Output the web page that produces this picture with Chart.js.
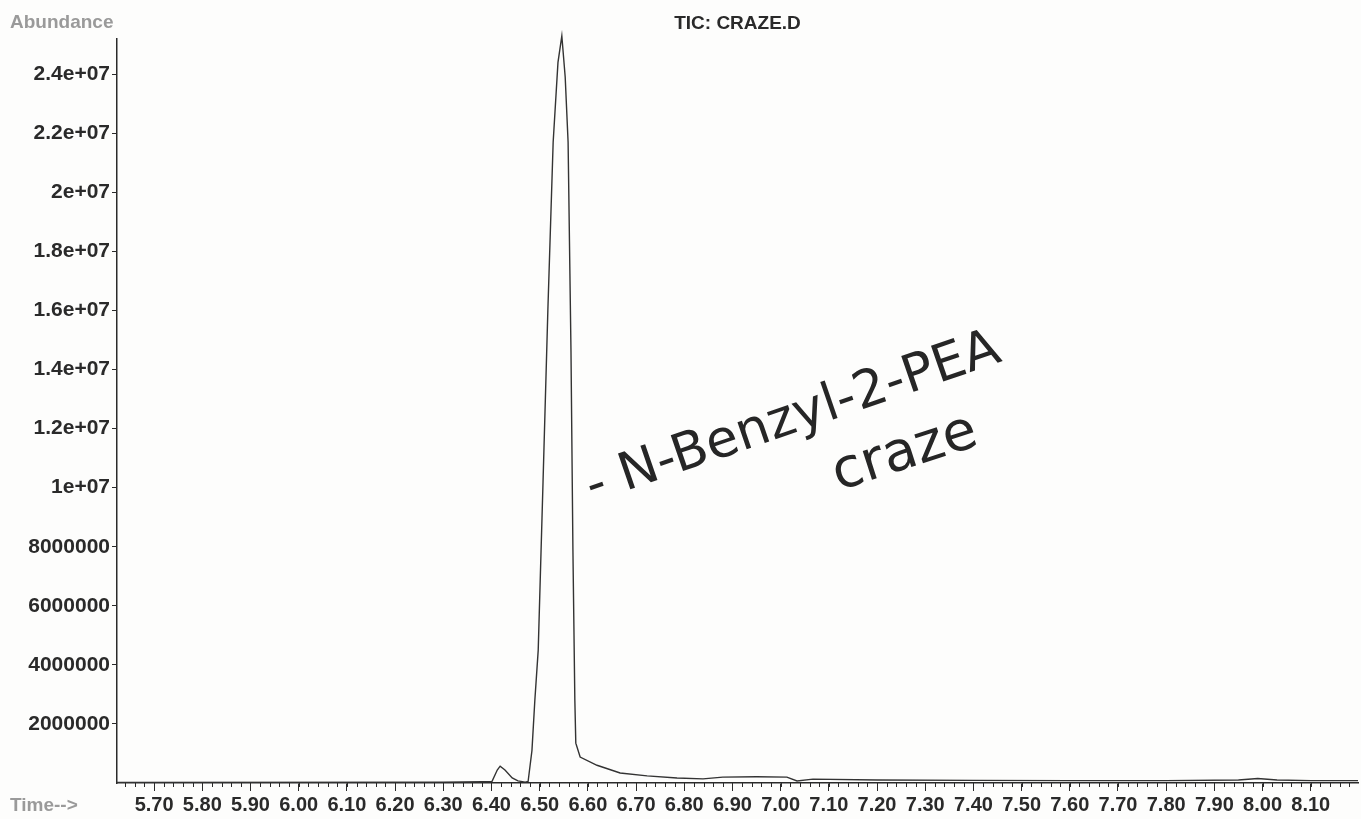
<!DOCTYPE html>
<html>
<head>
<meta charset="utf-8">
<script src="https://cdn.jsdelivr.net/npm/chart.js@4"></script>
<style>
  html, body { margin: 0; padding: 0; background: #fdfdfc; }
  #wrap { width: 1361px; height: 819px; }
</style>
</head>
<body>
<div id="wrap"><canvas id="tic"></canvas></div>
<script>
// retention time (min)
const times = [5.623, 6.30, 6.38, 6.401, 6.412, 6.418, 6.428, 6.443, 6.455, 6.47,
  6.476, 6.484, 6.490, 6.497, 6.507, 6.517, 6.528, 6.538, 6.546, 6.553,
  6.559, 6.565, 6.569, 6.573, 6.575, 6.584, 6.619, 6.667, 6.723, 6.785,
  6.839, 6.880, 6.95, 7.013, 7.034, 7.067, 7.20, 7.40, 7.60, 7.80,
  7.95, 7.99, 8.03, 8.10, 8.198];
// TIC abundance
const abundance = [20000, 30000, 40000, 50000, 440000, 570000, 440000, 170000, 70000, 30000,
  50000, 1100000, 2800000, 4500000, 10200000, 16000000, 21700000, 24400000, 25300000, 23900000,
  21700000, 14600000, 7900000, 2800000, 1350000, 880000, 600000, 340000, 240000, 170000,
  140000, 200000, 210000, 200000, 70000, 130000, 100000, 90000, 80000, 80000,
  100000, 150000, 100000, 80000, 80000];

const xTicks = [5.7, 5.8, 5.9, 6.0, 6.1, 6.2, 6.3, 6.4, 6.5, 6.6, 6.7, 6.8, 6.9,
  7.0, 7.1, 7.2, 7.3, 7.4, 7.5, 7.6, 7.7, 7.8, 7.9, 8.0, 8.1];
const yTicks = [2000000, 4000000, 6000000, 8000000, 10000000, 12000000,
  14000000, 16000000, 18000000, 20000000, 22000000, 24000000];

const title = "TIC: CRAZE.D";
const yLabel = "Abundance";
const xLabel = "Time-->";
const note1 = "- N-Benzyl-2-PEA";
const note2 = "craze";

const ink = "#2a2a2a";
const sans = "'Liberation Sans', Arial, sans-serif";

const fmtY = (v) => (v >= 1e7 ? String(v / 1e7) + "e+07" : String(v));

const extras = {
  id: "extras",
  afterDraw(chart) {
    const { ctx, scales } = chart;
    const xs = scales.x;
    ctx.save();
    // minor ticks every 0.02
    ctx.strokeStyle = ink;
    ctx.lineWidth = 1;
    ctx.beginPath();
    for (let i = 282; i * 0.02 <= xs.max; i++) {
      const v = i * 0.02;
      if (v < xs.min) continue;
      const px = Math.round(xs.getPixelForValue(v)) + 0.5;
      ctx.moveTo(px, xs.top);
      ctx.lineTo(px, xs.top + 4);
    }
    ctx.stroke();

    // corner labels
    ctx.fillStyle = "#9a9a9a";
    ctx.font = "bold 19px " + sans;
    ctx.textBaseline = "middle";
    ctx.textAlign = "left";
    ctx.fillText(yLabel, 10, 23);
    ctx.fillText(xLabel, 10, 806);

    // handwritten note
    ctx.fillStyle = "#262626";
    ctx.textBaseline = "alphabetic";
    let px = xs.getPixelForValue(6.609);
    let py = scales.y.getPixelForValue(9500000);
    ctx.translate(px, py);
    ctx.rotate(-19 * Math.PI / 180);
    ctx.font = "52px 'DejaVu Sans', sans-serif";
    ctx.fillText(note1, 0, 0);
    ctx.setTransform(1, 0, 0, 1, 0, 0);
    px = xs.getPixelForValue(7.12);
    py = scales.y.getPixelForValue(9900000);
    ctx.translate(px, py);
    ctx.rotate(-18 * Math.PI / 180);
    ctx.font = "55px 'DejaVu Sans', sans-serif";
    ctx.fillText(note2, 0, 0);
    ctx.restore();
  },
};

new Chart(document.getElementById("tic"), {
  type: "line",
  data: {
    datasets: [
      {
        data: times.map((t, i) => ({ x: t, y: abundance[i] })),
        borderColor: "#333333",
        borderWidth: 1.4,
        pointRadius: 0,
        tension: 0,
        fill: false,
        clip: false,
      },
    ],
  },
  options: {
    responsive: true,
    maintainAspectRatio: false,
    animation: false,
    layout: { padding: { left: 0, right: 3, top: 0, bottom: 2 } },
    plugins: {
      legend: { display: false },
      tooltip: { enabled: false },
      title: {
        display: true,
        fullSize: false,
        text: title,
        color: ink,
        font: { family: sans, size: 19, weight: "bold" },
        padding: { top: 12, bottom: 4 },
      },
    },
    scales: {
      x: {
        type: "linear",
        min: 5.623,
        max: 8.198,
        afterBuildTicks: (s) => { s.ticks = xTicks.map((v) => ({ value: v })); },
        afterFit: (s) => { s.height = 34; },
        border: { color: ink, width: 1.5 },
        grid: { drawOnChartArea: false, tickLength: 8, color: ink },
        ticks: {
          color: ink,
          padding: 2,
          maxRotation: 0,
          autoSkip: false,
          font: { family: sans, size: 20, weight: "bold" },
          callback: (v) => Number(v).toFixed(2),
        },
      },
      y: {
        min: 0,
        max: 25200000,
        afterBuildTicks: (s) => { s.ticks = yTicks.map((v) => ({ value: v })); },
        afterFit: (s) => { s.width = 117; },
        border: { color: ink, width: 1.5 },
        grid: { drawOnChartArea: false, tickLength: 5, color: ink },
        ticks: {
          color: ink,
          padding: 2,
          autoSkip: false,
          font: { family: sans, size: 21, weight: "bold" },
          callback: (v) => fmtY(v),
        },
      },
    },
  },
  plugins: [extras],
});
</script>
</body>
</html>
